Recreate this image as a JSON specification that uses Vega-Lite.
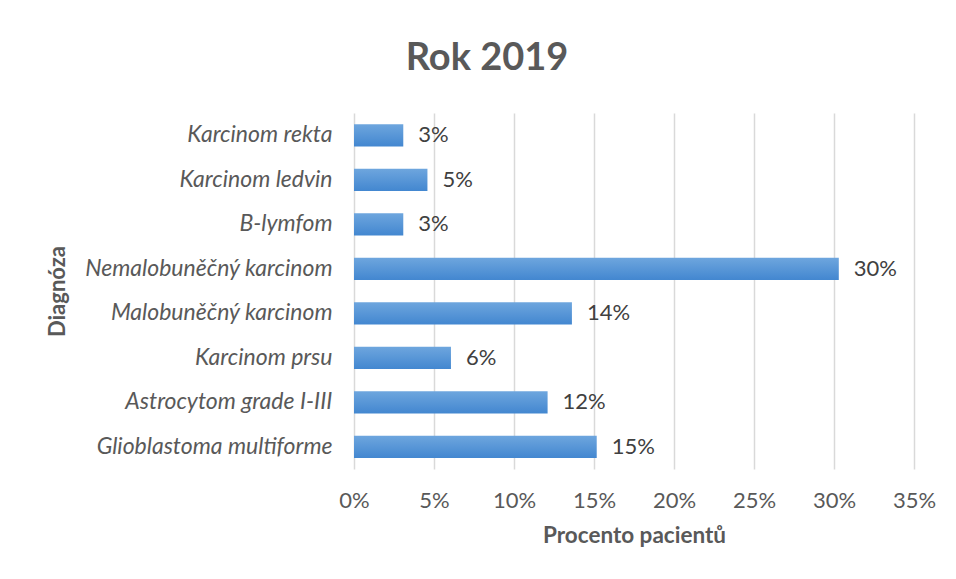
{
  "$schema": "https://vega.github.io/schema/vega-lite/v6.json",
  "autosize": "none",
  "width": 560,
  "height": 356,
  "padding": {"left": 354, "top": 113, "right": 42, "bottom": 110},
  "background": "white",
  "title": {"text": "Rok 2019", "fontSize": 38, "font": "Lato", "fontWeight": "bold", "color": "#595959", "anchor": "middle", "frame": "group", "offset": 35, "dx": -147},
  "config": {"view": {"stroke": null}, "font": "Lato"},
  "data": {"values": [
    {"d": "Karcinom rekta", "v": 0.0308, "l": "3%"},
    {"d": "Karcinom ledvin", "v": 0.0459, "l": "5%"},
    {"d": "B-lymfom", "v": 0.0308, "l": "3%"},
    {"d": "Nemalobuněčný karcinom", "v": 0.3030, "l": "30%"},
    {"d": "Malobuněčný karcinom", "v": 0.1362, "l": "14%"},
    {"d": "Karcinom prsu", "v": 0.0606, "l": "6%"},
    {"d": "Astrocytom grade I-III", "v": 0.1210, "l": "12%"},
    {"d": "Glioblastoma multiforme", "v": 0.1517, "l": "15%"}
  ]},
  "encoding": {
    "y": {"field": "d", "type": "nominal", "sort": null,
      "scale": {"paddingInner": 0.5, "paddingOuter": 0.25},
      "axis": {"title": "Diagnóza", "titleFontSize": 22, "titleFontWeight": "bold", "titleColor": "#595959",
        "titleX": -297, "titleY": 178, "titleAngle": -90, "titleAlign": "center", "titleBaseline": "middle",
        "labelFontSize": 23, "labelFontStyle": "italic", "labelColor": "#595959", "labelPadding": 22, "labelLimit": 400,
        "ticks": false, "domain": false}}
  },
  "layer": [
    {"mark": {"type": "bar", "color": {"gradient": "linear", "x1": 0, "y1": 0, "x2": 0, "y2": 1, "stops": [{"offset": 0, "color": "#6ea6de"}, {"offset": 1, "color": "#4387d0"}]}},
     "encoding": {"x": {"field": "v", "type": "quantitative", "scale": {"domain": [0, 0.35], "nice": false},
       "axis": {"format": ".0%", "values": [0, 0.05, 0.1, 0.15, 0.2, 0.25, 0.3, 0.35], "title": "Procento pacientů",
         "titleFontSize": 22.5, "titleFontWeight": "bold", "titleColor": "#595959", "titlePadding": 13,
         "labelFontSize": 22, "labelColor": "#595959", "labelPadding": 21, "labelFlush": false,
         "grid": true, "gridColor": "#d9d9d9", "gridWidth": 1.5, "ticks": false, "domain": false}}}},
    {"mark": {"type": "text", "align": "left", "dx": 15, "fontSize": 22, "color": "#404040"},
     "encoding": {"x": {"field": "v", "type": "quantitative"}, "text": {"field": "l"}}}
  ]
}
